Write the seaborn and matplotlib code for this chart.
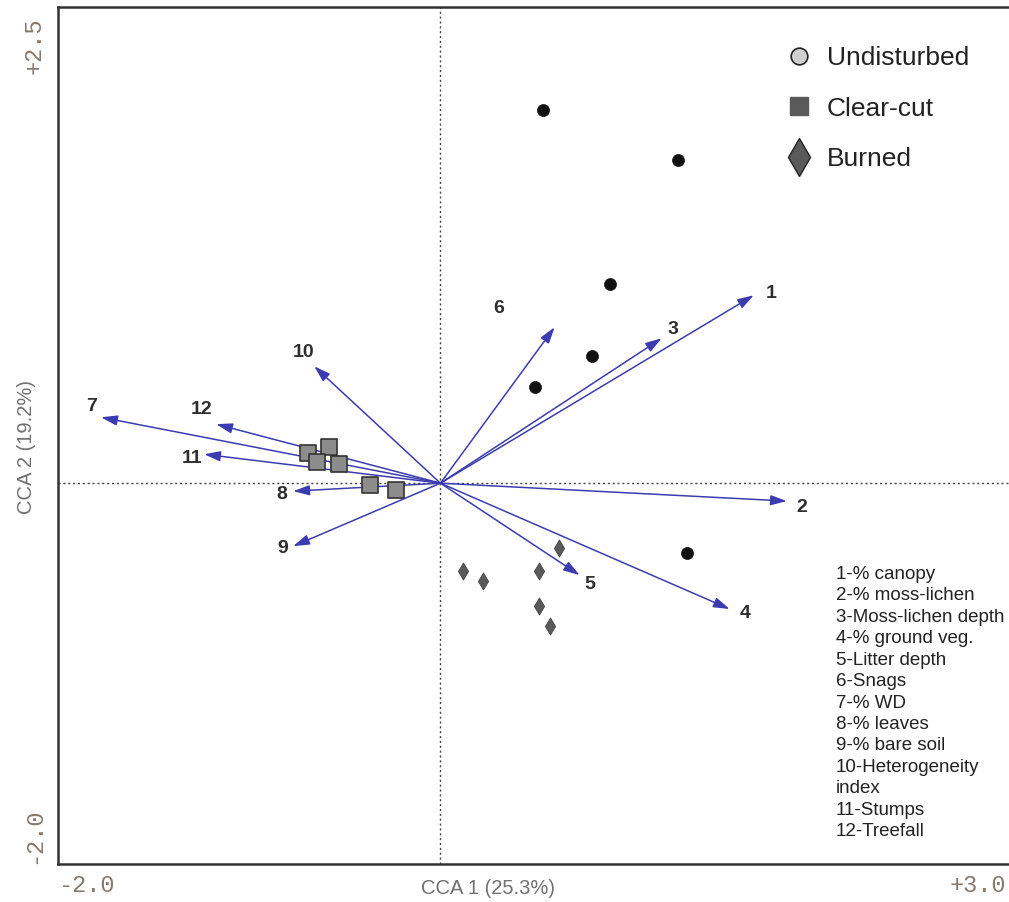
import numpy as np
import pandas as pd
import matplotlib
matplotlib.use("Agg")
import matplotlib.pyplot as plt
import matplotlib.transforms as mtransforms
from matplotlib.lines import Line2D
import seaborn as sns

# ---- site scores (CCA 1, CCA 2) ----
undist_x = [0.534, 1.241, 0.885, 0.791, 0.492, 1.288]
undist_y = [1.958, 1.696, 1.045, 0.667, 0.504, -0.367]
clear_x = [-0.691, -0.581, -0.644, -0.529, -0.366, -0.230]
clear_y = [0.157, 0.189, 0.110, 0.100, -0.010, -0.037]
burned_x = [0.618, 0.120, 0.225, 0.513, 0.513, 0.571]
burned_y = [-0.341, -0.462, -0.514, -0.462, -0.646, -0.751]

# ---- environmental variables (arrow tips) ----
var_ids = ['1', '2', '3', '4', '5', '6', '7', '8', '9', '10', '11', '12']
var_x = [1.639, 1.812, 1.157, 1.513, 0.728, 0.597, -1.775, -0.770, -0.770, -0.660, -1.236, -1.173]
var_y = [0.987, -0.094, 0.761, -0.661, -0.483, 0.819, 0.346, -0.042, -0.331, 0.614, 0.152, 0.310]
# number labels next to the arrows
lab_x = [1.728, 1.890, 1.215, 1.592, 0.780, 0.304, -1.822, -0.827, -0.827, -0.717, -1.298, -1.251]
lab_y = [0.997, -0.126, 0.808, -0.682, -0.530, 0.919, 0.404, -0.058, -0.341, 0.688, 0.131, 0.388]
var_names = ['1-% canopy', '2-% moss-lichen', '3-Moss-lichen depth', '4-% ground veg.',
             '5-Litter depth', '6-Snags', '7-% WD', '8-% leaves', '9-% bare soil',
             '10-Heterogeneity\nindex', '11-Stumps', '12-Treefall']

groups = ['Undisturbed', 'Clear-cut', 'Burned']

sites = pd.DataFrame({
    'x': undist_x + clear_x + burned_x,
    'y': undist_y + clear_y + burned_y,
    'group': ['Undisturbed'] * len(undist_x) + ['Clear-cut'] * len(clear_x) + ['Burned'] * len(burned_x),
})

sns.set_style('white')
plt.rcParams['font.family'] = ['Liberation Sans', 'DejaVu Sans']

fig = plt.figure(figsize=(10.09, 9.02), dpi=100)
ax = fig.add_axes([0.0575, 0.0421, 0.9475, 0.950])

# zero lines
ax.axhline(0, color='#444444', lw=1.0, ls=(0, (1.5, 2)), zorder=1)
ax.axvline(0, color='#444444', lw=1.0, ls=(0, (1.5, 2)), zorder=1)

# arrows
arrow_col = '#3c3cb0'
for tx, ty in zip(var_x, var_y):
    ax.annotate('', xy=(tx, ty), xytext=(0, 0),
                arrowprops=dict(arrowstyle='-|>,head_length=0.7,head_width=0.22',
                                color=arrow_col, lw=1.1, shrinkA=0, shrinkB=0,
                                mutation_scale=14), zorder=2)
for lx, ly, t in zip(lab_x, lab_y, var_ids):
    ax.text(lx, ly, t, fontsize=14, fontweight='bold', color='#2e2e2e',
            ha='center', va='center', zorder=4)

# site points
styles = {
    'Undisturbed': dict(marker='o', s=75, color='#111111', edgecolor='#111111', linewidth=0.5),
    'Clear-cut': dict(marker='s', s=135, color='#8c8c8c', edgecolor='#333333', linewidth=1.2),
    'Burned': dict(marker='d', s=75, color='#5a5a5a', edgecolor='#444444', linewidth=0.6),
}
for g in groups:
    sns.scatterplot(data=sites[sites.group == g], x='x', y='y', ax=ax,
                    legend=False, zorder=3, **styles[g])

# axes limits & ticks
ax.set_xlim(-2.0, 3.0)
ax.set_ylim(-2.0, 2.5)
xt = np.arange(-2.0, 3.01, 0.5)
yt = np.arange(-2.0, 2.51, 0.5)
ax.set_xticks(xt)
ax.set_yticks(yt)
ax.set_xticklabels(['-2.0'] + [''] * (len(xt) - 2) + ['+3.0'],
                   family='Liberation Mono', fontsize=17, color='#86796f')
ax.set_yticklabels(['-2.0'] + [''] * (len(yt) - 2) + ['+2.5'],
                   family='Liberation Mono', fontsize=17, color='#86796f', rotation=90)
ax.tick_params(axis='both', direction='out', length=4, width=1, color='#444444')
ax.tick_params(axis='x', pad=3)
ax.tick_params(axis='y', pad=5)

xl = ax.get_xticklabels()
xl[0].set_ha('left')
xl[-1].set_ha('right')
xl[-1].set_transform(xl[-1].get_transform()
                     + mtransforms.ScaledTranslation(-8 / 100, 0, fig.dpi_scale_trans))
yl = ax.get_yticklabels()
yl[0].set_va('bottom')
yl[-1].set_va('top')
yl[-1].set_transform(yl[-1].get_transform()
                     + mtransforms.ScaledTranslation(0, -10 / 100, fig.dpi_scale_trans))

for side in ['left', 'bottom', 'top']:
    ax.spines[side].set_color('#333333')
    ax.spines[side].set_linewidth(1.8)
ax.spines['right'].set_visible(False)

ax.set_xlabel('CCA 1 (25.3%)', fontsize=14.5, color='#707070')
ax.set_ylabel('CCA 2 (19.2%)', fontsize=14.5, color='#707070')
ax.xaxis.set_label_coords(0.45, -0.017)
ax.yaxis.set_label_coords(-0.023, 0.487)

# legend for site groups
handles = [
    Line2D([], [], ls='none', marker='o', markersize=12, markerfacecolor='#cfcfcf',
           markeredgecolor='#222222', markeredgewidth=1.2),
    Line2D([], [], ls='none', marker='s', markersize=13.5, markerfacecolor='#5a5a5a',
           markeredgecolor='#5a5a5a'),
    Line2D([], [], ls='none', marker='d', markersize=19, markerfacecolor='#5a5a5a',
           markeredgecolor='#222222', markeredgewidth=1.0),
]
fig.legend(handles, groups, loc='upper left', bbox_to_anchor=(773 / 1009, 1 - 33 / 902),
           frameon=False, fontsize=19, handlelength=1.0, handletextpad=0.55,
           labelspacing=1.0, borderpad=0, labelcolor='#222222')

# variable key
fig.text(836 / 1009, 1 - 566 / 902, '\n'.join(var_names), fontsize=13.5,
         color='#222222', ha='left', va='top', linespacing=1.34)

fig.savefig('out.png', dpi=100)
